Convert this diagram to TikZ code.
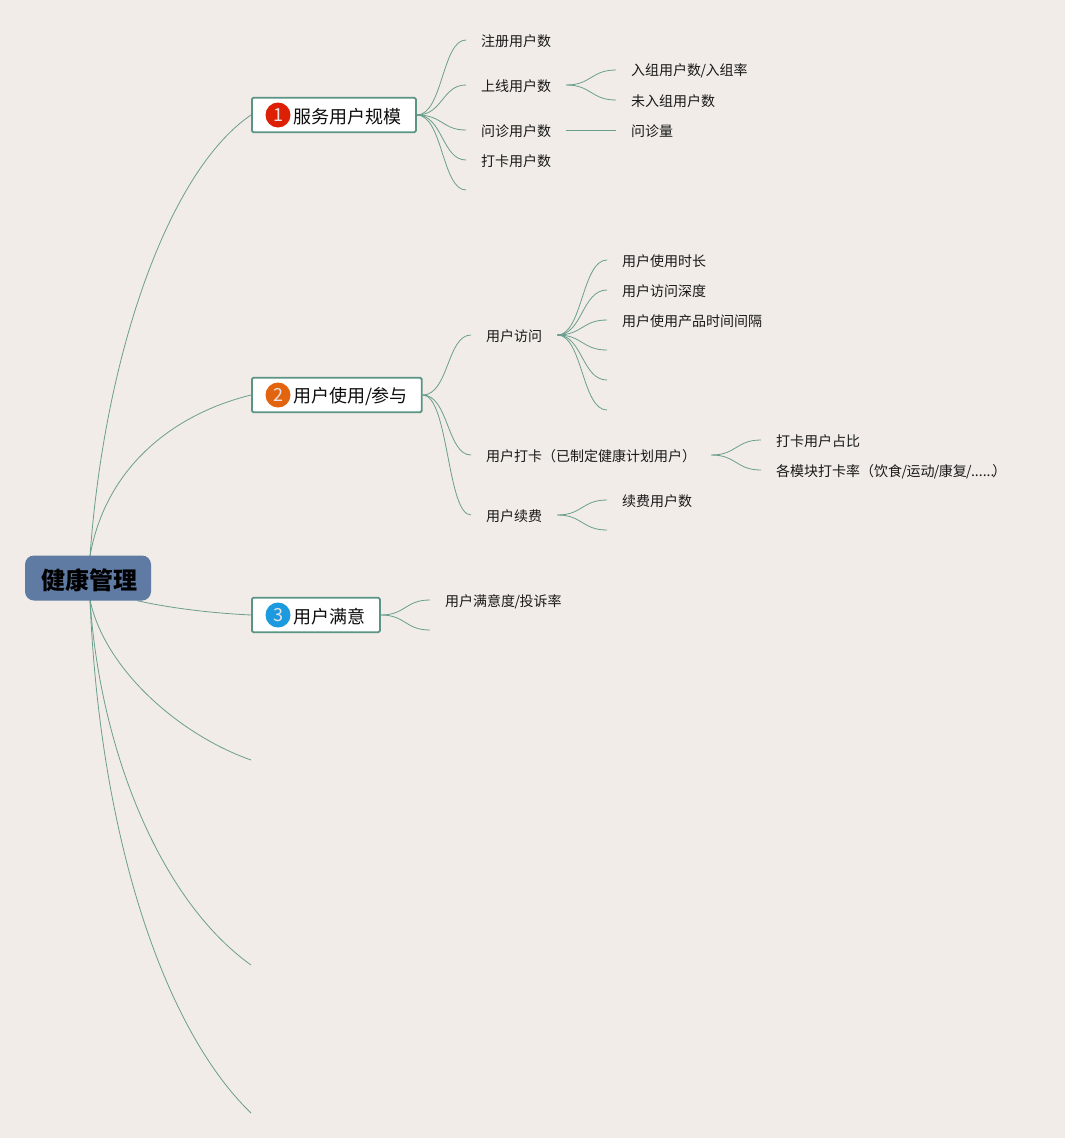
\documentclass[tikz,border=0pt]{standalone}
\usepackage{fontspec}
\setmainfont{Noto Sans CJK SC}
\usetikzlibrary{backgrounds}
\definecolor{bgc}{HTML}{F1ECE7}
\definecolor{linec}{HTML}{6A9E8E}
\definecolor{boxc}{HTML}{5A9485}
\definecolor{rootc}{HTML}{5F7AA3}
\definecolor{badgea}{HTML}{DC1F05}
\definecolor{badgeb}{HTML}{E2640F}
\definecolor{badgec}{HTML}{1C9AE0}
\newcommand\slsh{\kern-0.6pt/\kern-0.6pt}
\newcommand\lowrule{\rule{0pt}{14.5pt}}
\newcommand\mainrule{\rule{0pt}{18pt}}
\tikzset{
  leaf/.style={anchor=west,inner xsep=15pt,inner ysep=2pt,font=\fontsize{14}{16}\selectfont,text=black!90},
  mainbox/.style={anchor=west,draw=boxc,line width=1.8pt,fill=white,rounded corners=1.5pt,inner xsep=15pt,minimum height=34.5pt,font=\fontsize{18}{20}\selectfont,text=black!95},
  badge/.style={circle,minimum size=25pt,inner sep=0pt,text=white!90!black,font=\fontsize{18}{18}\selectfont},
  conn/.style={draw=linec,line width=0.8pt},
}
\begin{document}
\begin{tikzpicture}[x=1pt,y=-1pt]
\useasboundingbox (0,0) rectangle (1065,1138);
% root
\node[anchor=center,fill=rootc,rounded corners=9pt,minimum width=126pt,minimum height=45pt,inner sep=0pt,font=\fontsize{24}{26}\selectfont\bfseries,text=black] (root) at (88,578) {\hspace{2pt}\rule{0pt}{25pt}健康管理};
% main boxes
\node[mainbox] (m1) at (251,115) {\hspace*{27pt}\mainrule 服务用户规模\hspace*{-1pt}};
\node[mainbox] (m2) at (251,395) {\hspace*{27pt}\mainrule 用户使用\slsh 参与\hspace*{-1pt}};
\node[mainbox] (m3) at (251,615) {\hspace*{27pt}\mainrule 用户满意\hspace*{-1pt}};
\node[badge,fill=badgea] (b1) at (278,115) {1};
\node[badge,fill=badgeb] (b2) at (278,395) {2};
\node[badge,fill=badgec] (b3) at (278,615) {3};
% first branch
\node[leaf] (a1) at (466,40) {\lowrule 注册用户数};
\node[leaf] (a2) at (466,85) {\lowrule 上线用户数};
\node[leaf] (a3) at (466,130) {\lowrule 问诊用户数};
\node[leaf] (a4) at (466,160) {\lowrule 打卡用户数};
\coordinate (a5) at (466,190);
\node[leaf] (a21) at (616,70) {\lowrule 入组用户数\slsh 入组率};
\node[leaf] (a22) at (616,100) {\lowrule 未入组用户数};
\node[leaf] (a31) at (616,130) {\lowrule 问诊量};
% second branch
\node[leaf] (c1) at (471,335) {\lowrule 用户访问};
\node[leaf] (c2) at (471,455) {\lowrule 用户打卡（已制定健康计划用户）};
\node[leaf] (c3) at (471,515) {\lowrule 用户续费};
\node[leaf] (c11) at (607,260) {\lowrule 用户使用时长};
\node[leaf] (c12) at (607,290) {\lowrule 用户访问深度};
\node[leaf] (c13) at (607,320) {\lowrule 用户使用产品时间间隔};
\coordinate (c14) at (607,350);
\coordinate (c15) at (607,380);
\coordinate (c16) at (607,410);
\node[leaf] (c21) at (761,440) {\lowrule 打卡用户占比};
\node[leaf] (c22) at (761,470) {\lowrule 各模块打卡率（饮食\slsh 运动\slsh 康复\slsh ......\kern-2pt）};
\node[leaf] (c31) at (607,500) {\lowrule 续费用户数};
\coordinate (c32) at (607,530);
% third branch
\node[leaf] (d1) at (430,600) {\lowrule 用户满意度\slsh 投诉率};
\coordinate (d2) at (430,630);
% empty top-level
\coordinate (e1) at (251,760);
\coordinate (e2) at (251,965);
\coordinate (e3) at (251,1113);
\coordinate (rt) at (90,556);
\coordinate (rb) at (90,600);
\begin{pgfonlayer}{background}
\fill[bgc] (0,0) rectangle (1065,1138);
\path[conn] (rt) .. controls (105,350) and (170,170) .. (m1.west);
\path[conn] (rt) .. controls (105,470) and (170,415) .. (m2.west);
\path[conn] (root.south east) ++(-14,0) .. controls (170,608) and (210,613) .. (m3.west);
\path[conn] (rb) .. controls (105,670) and (180,735) .. (e1);
\path[conn] (rb) .. controls (100,750) and (160,900) .. (e2);
\path[conn] (rb) .. controls (100,840) and (165,1030) .. (e3);
\foreach \t/\s in {a1/m1,a2/m1,a3/m1,a4/m1,c1/m2,c2/m2,c3/m2}{
  \path[conn] (\s.east) .. controls ([xshift=26pt]\s.east) and ([xshift=-24pt]\t.west) .. (\t.west);
}
\path[conn] (m1.east) .. controls ([xshift=26pt]m1.east) and ([xshift=-24pt]a5) .. (a5);
\foreach \t in {a21,a22}{
  \path[conn] (a2.east) .. controls ([xshift=25pt]a2.east) and ([xshift=-25pt]\t.west) .. (\t.west);
}
\path[conn] (a3.east) -- (a31.west);
\foreach \t in {c11,c12,c13}{
  \path[conn] (c1.east) .. controls ([xshift=25pt]c1.east) and ([xshift=-25pt]\t.west) .. (\t.west);
}
\foreach \t in {c14,c15,c16}{
  \path[conn] (c1.east) .. controls ([xshift=25pt]c1.east) and ([xshift=-25pt]\t) .. (\t);
}
\foreach \t in {c21,c22}{
  \path[conn] (c2.east) .. controls ([xshift=25pt]c2.east) and ([xshift=-25pt]\t.west) .. (\t.west);
}
\path[conn] (c3.east) .. controls ([xshift=25pt]c3.east) and ([xshift=-25pt]c31.west) .. (c31.west);
\path[conn] (c3.east) .. controls ([xshift=25pt]c3.east) and ([xshift=-25pt]c32) .. (c32);
\path[conn] (m3.east) .. controls ([xshift=25pt]m3.east) and ([xshift=-25pt]d1.west) .. (d1.west);
\path[conn] (m3.east) .. controls ([xshift=25pt]m3.east) and ([xshift=-25pt]d2) .. (d2);
\end{pgfonlayer}
\end{tikzpicture}
\end{document}
